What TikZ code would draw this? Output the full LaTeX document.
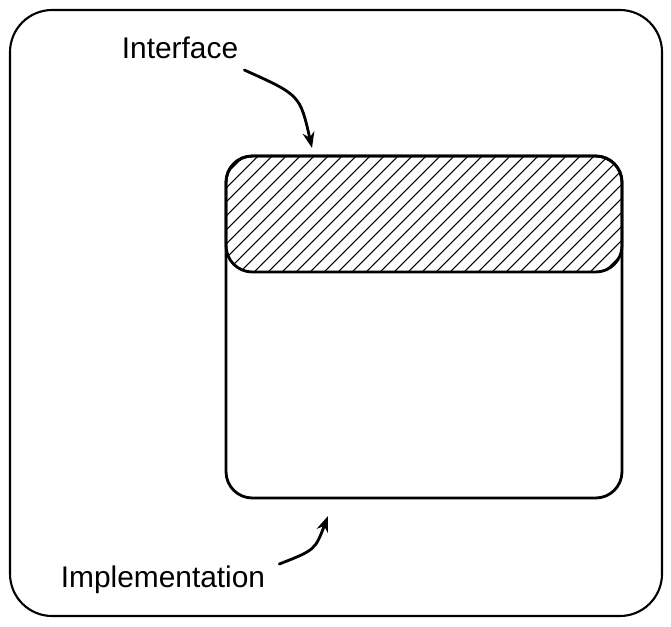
\documentclass[tikz,border=0pt]{standalone}
\usepackage{fontspec}
\setmainfont{Liberation Sans}
\usetikzlibrary{arrows.meta}
\tikzset{sketch/.style={line width=1.6pt,line join=round,line cap=round},
         label/.style={font=\fontsize{17}{20}\selectfont}}
\begin{document}
\begin{tikzpicture}[x=0.02cm,y=-0.02cm]
  \useasboundingbox (0,0) rectangle (671,626);
  % outer frame
  \draw [sketch,line width=1.2pt,rounded corners=24] (10,10) rectangle (662,616);
  % module box with hatched interface band
  \begin{scope}
    \clip [rounded corners=15] (226,156) rectangle (622,272);
    \foreach \x in {100,114,...,640}
      \draw [line width=0.6pt] (\x,272) -- (\x+116,156);
  \end{scope}
  \draw [sketch,rounded corners=15] (226,156) rectangle (622,272);
  \draw [sketch,rounded corners=15] (226,156) rectangle (622,498);
  \node [label] (iface) at (180,48) {Interface};
  \node [label] (impl) at (163,580) {Implementation};
  \coordinate (itop) at (312,148);
  \coordinate (ibot) at (328,516);
  \draw [sketch,-{Stealth[length=9pt]}] (iface.east) ++(0,22) .. controls (300,95) .. (itop);
  \draw [sketch,-{Stealth[length=9pt]}] (impl.east) ++(8,-16) .. controls (315,550) .. (ibot);
\end{tikzpicture}
\end{document}
